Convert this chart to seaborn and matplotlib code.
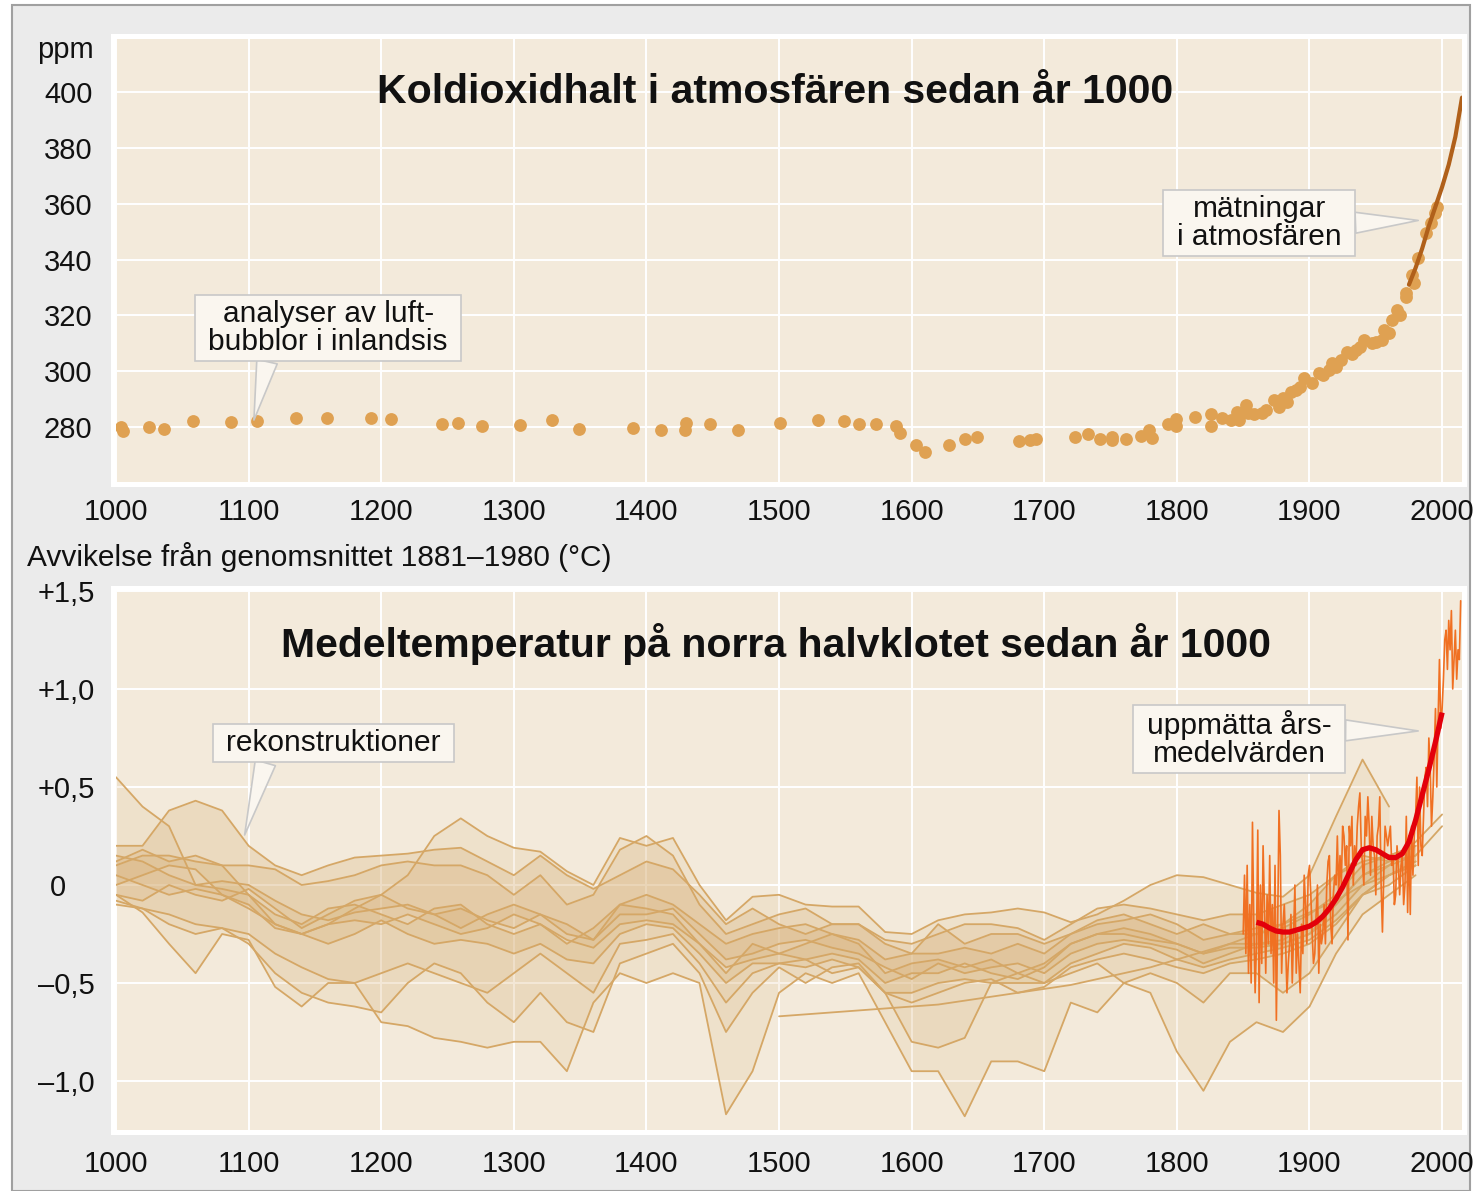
import numpy as np
import pandas as pd
import matplotlib
matplotlib.use('Agg')
import matplotlib.pyplot as plt
from matplotlib.patches import Rectangle
import seaborn as sns

# ---------------- CO2 (ppm) ----------------
co2_year = [1004, 1005, 1025, 1036, 1058, 1087, 1106, 1136, 1159, 1192,
            1207, 1246, 1258, 1276, 1305, 1329, 1349, 1390, 1411, 1429,
            1430, 1448, 1469, 1501, 1529, 1549, 1560, 1573, 1588, 1591,
            1603, 1610, 1628, 1640, 1649, 1681, 1689, 1694, 1723, 1733,
            1742, 1751, 1751, 1762, 1773, 1779, 1781, 1793, 1799, 1799,
            1814, 1826, 1826, 1834, 1841, 1845, 1847, 1852, 1854, 1858,
            1864, 1867, 1873, 1877, 1880, 1883, 1886, 1890, 1893, 1896,
            1902, 1907, 1910, 1915, 1917, 1920, 1924, 1928, 1932, 1935,
            1938, 1941, 1947, 1950, 1955, 1956, 1960, 1962, 1966, 1968,
            1973, 1973, 1977, 1979, 1982, 1988, 1992, 1995, 1996]
co2_ppm = [280.0, 278.6, 280.0, 279.3, 282.2, 281.8, 282.2, 283.2, 283.2, 283.2,
           282.9, 281.1, 281.4, 280.4, 280.7, 282.5, 279.3, 279.6, 278.9, 278.9,
           281.4, 281.1, 278.9, 281.4, 282.5, 282.2, 281.1, 281.1, 280.4, 277.9,
           273.6, 271.0, 273.6, 275.7, 276.4, 275.0, 275.3, 275.7, 276.4, 277.5,
           275.7, 276.4, 275.3, 275.7, 276.8, 278.9, 276.0, 281.1, 282.9, 280.4,
           283.6, 284.7, 280.4, 283.2, 282.5, 285.4, 282.5, 287.9, 285.0, 284.5,
           285.0, 286.1, 289.7, 287.2, 290.5, 289.0, 292.6, 293.3, 294.5, 297.6,
           295.8, 299.3, 298.5, 300.4, 302.9, 301.5, 304.0, 306.9, 306.0, 307.6,
           308.5, 311.2, 310.1, 310.5, 311.2, 314.7, 313.5, 318.3, 321.9, 320.0,
           326.6, 328.0, 334.5, 331.6, 340.5, 349.5, 353.1, 356.7, 358.8]
mlo_year = [1975, 1980, 1985, 1990, 1995, 2000, 2005, 2010, 2015]
mlo_ppm = [331, 337, 344, 352, 359, 366, 374, 384, 398]

# ---------------- temperatur (avvikelse, grader C) ----------------
rec_year = list(range(1000, 2001, 20))
nan = np.nan
rec_a = [0.55, 0.40, 0.30, 0.00, -0.02, -0.05, -0.20, -0.25, -0.20, -0.12,
         -0.05, 0.05, 0.25, 0.34, 0.25, 0.19, 0.17, 0.07, 0.00, 0.24,
         0.20, 0.24, 0.00, -0.18, -0.06, -0.05, -0.10, -0.11, -0.11, -0.24,
         -0.25, -0.18, -0.15, -0.14, -0.12, -0.14, -0.19, -0.15, -0.08, 0.00,
         0.05, 0.04, 0.00, -0.04, -0.06, 0.05, 0.35, 0.64, 0.40, nan, nan]
rec_b = [0.20, 0.20, 0.38, 0.43, 0.38, 0.20, 0.10, 0.05, 0.10, 0.14,
         0.15, 0.16, 0.18, 0.19, 0.12, 0.05, 0.15, 0.05, -0.02, 0.05,
         0.12, 0.08, -0.05, -0.20, -0.12, -0.20, -0.25, -0.20, -0.20, -0.30,
         -0.35, -0.20, -0.30, -0.25, -0.25, -0.30, -0.25, -0.18, -0.15, -0.20,
         -0.25, -0.20, -0.25, -0.22, -0.20, -0.10, 0.05, 0.15, 0.12, 0.20, nan]
rec_c = [-0.05, -0.14, -0.30, -0.45, -0.25, -0.28, -0.52, -0.62, -0.50, -0.50,
         -0.70, -0.72, -0.78, -0.80, -0.83, -0.80, -0.80, -0.95, -0.60, -0.45,
         -0.50, -0.45, -0.50, -1.17, -0.95, -0.55, -0.45, -0.50, -0.45, -0.70,
         -0.95, -0.95, -1.18, -0.90, -0.90, -0.95, -0.60, -0.65, -0.50, -0.55,
         -0.85, -1.05, -0.80, -0.70, -0.75, -0.62, -0.35, -0.15, -0.05, 0.05, nan]
rec_d = [-0.10, -0.12, -0.20, -0.25, -0.22, -0.30, -0.45, -0.55, -0.60, -0.62,
         -0.65, -0.50, -0.40, -0.45, -0.60, -0.70, -0.55, -0.70, -0.75, -0.40,
         -0.35, -0.30, -0.45, -0.75, -0.55, -0.42, -0.50, -0.42, -0.40, -0.55,
         -0.80, -0.83, -0.78, -0.50, -0.45, -0.50, -0.45, -0.40, -0.50, -0.45,
         -0.50, -0.60, -0.45, -0.45, -0.55, -0.45, -0.25, -0.05, 0.00, 0.10, nan]
rec_e = [0.10, 0.15, 0.15, 0.12, 0.10, -0.05, -0.15, -0.20, -0.12, -0.10,
         -0.15, -0.20, -0.12, -0.10, -0.20, -0.25, -0.20, -0.30, -0.22, -0.10,
         -0.12, -0.15, -0.30, -0.45, -0.30, -0.35, -0.30, -0.25, -0.30, -0.45,
         -0.40, -0.38, -0.42, -0.38, -0.45, -0.40, -0.30, -0.25, -0.22, -0.25,
         -0.30, -0.35, -0.30, -0.30, -0.28, -0.20, -0.10, 0.05, 0.10, 0.15, nan]
rec_f = [0.15, 0.12, 0.05, 0.00, 0.02, 0.00, -0.08, -0.15, -0.18, -0.14,
         -0.12, -0.10, -0.15, -0.22, -0.15, -0.10, -0.15, -0.25, -0.28, -0.15,
         -0.15, -0.12, -0.25, -0.38, -0.35, -0.30, -0.28, -0.32, -0.35, -0.42,
         -0.48, -0.40, -0.45, -0.42, -0.40, -0.45, -0.35, -0.30, -0.28, -0.30,
         -0.33, -0.40, -0.35, -0.30, -0.30, -0.25, -0.15, 0.00, 0.05, 0.12, nan]
rec_g = [0.05, 0.00, -0.05, -0.02, -0.05, -0.12, -0.20, -0.25, -0.20, -0.18,
         -0.20, -0.15, -0.20, -0.25, -0.22, -0.15, -0.20, -0.28, -0.32, -0.20,
         -0.18, -0.20, -0.30, -0.42, -0.38, -0.35, -0.38, -0.35, -0.38, -0.50,
         -0.45, -0.45, -0.40, -0.45, -0.48, -0.42, -0.30, -0.25, -0.25, -0.28,
         -0.30, -0.35, -0.32, -0.32, -0.30, -0.25, -0.10, 0.05, 0.12, 0.15, 0.30]
rec_h = [-0.05, -0.08, 0.00, -0.05, -0.08, -0.02, -0.12, -0.22, -0.15, -0.08,
         -0.05, -0.12, -0.15, -0.12, -0.18, -0.22, -0.15, -0.20, -0.28, -0.10,
         -0.05, -0.10, -0.20, -0.30, -0.25, -0.22, -0.20, -0.25, -0.28, -0.38,
         -0.35, -0.35, -0.32, -0.35, -0.30, -0.35, -0.25, -0.20, -0.18, -0.15,
         -0.20, -0.28, -0.25, -0.25, -0.22, -0.15, -0.05, 0.10, 0.15, 0.20, nan]
rec_i = [0.00, 0.05, 0.10, 0.08, -0.05, -0.10, -0.22, -0.25, -0.30, -0.25,
         -0.18, -0.25, -0.30, -0.28, -0.30, -0.35, -0.30, -0.38, -0.40, -0.25,
         -0.20, -0.22, -0.35, -0.50, -0.40, -0.40, -0.42, -0.38, -0.42, -0.55,
         -0.55, -0.50, -0.48, -0.50, -0.50, -0.50, -0.40, -0.35, -0.30, -0.32,
         -0.38, -0.42, -0.38, -0.35, -0.32, -0.28, -0.18, -0.05, 0.05, 0.10, nan]
rec_j = [0.12, 0.18, 0.12, 0.15, 0.10, 0.10, 0.08, 0.00, 0.02, 0.05,
         0.10, 0.12, 0.10, 0.10, 0.05, -0.05, 0.05, -0.10, -0.05, 0.18,
         0.25, 0.15, -0.10, -0.25, -0.20, -0.15, -0.12, -0.20, -0.20, -0.28,
         -0.30, -0.25, -0.20, -0.20, -0.22, -0.28, -0.20, -0.12, -0.10, -0.12,
         -0.15, -0.18, -0.15, -0.15, -0.10, -0.05, 0.05, 0.12, 0.15, 0.20, nan]
rec_k = [-0.08, -0.12, -0.15, -0.20, -0.22, -0.25, -0.35, -0.42, -0.48, -0.50,
         -0.45, -0.40, -0.45, -0.50, -0.55, -0.45, -0.35, -0.45, -0.55, -0.30,
         -0.28, -0.25, -0.40, -0.60, -0.45, -0.40, -0.38, -0.45, -0.42, -0.55,
         -0.60, -0.55, -0.50, -0.48, -0.55, -0.52, -0.42, -0.38, -0.35, -0.38,
         -0.42, -0.45, -0.40, -0.38, -0.35, -0.30, -0.20, -0.05, 0.05, 0.12, nan]
bore_year = list(range(1500, 2001, 20))
bore_t = [-0.67, -0.66, -0.65, -0.64, -0.63, -0.62, -0.61, -0.59, -0.57, -0.55,
          -0.53, -0.51, -0.48, -0.45, -0.42, -0.38, -0.34, -0.30, -0.25, -0.20,
          -0.14, -0.08, 0.00, 0.10, 0.22, 0.36]

obs_year = list(range(1850, 2015))
obs_t = [-0.25, 0.05, -0.35, 0.10, -0.45, -0.10, -0.50, 0.32, -0.20, -0.55,
         -0.30, 0.28, -0.60, 0.00, -0.40, 0.20, -0.10, -0.45, -0.05, -0.30,
         0.15, -0.35, -0.10, -0.50, 0.10, -0.69, -0.20, 0.38, 0.15, -0.45,
         -0.20, -0.10, -0.30, -0.55, -0.40, -0.30, -0.15, -0.50, -0.25, 0.00,
         -0.45, -0.25, -0.40, -0.55, -0.20, -0.35, 0.05, -0.10, -0.30, 0.05,
         0.10, -0.05, -0.25, -0.40, -0.35, -0.15, 0.00, -0.45, -0.20, -0.30,
         -0.25, -0.10, -0.30, 0.00, 0.12, 0.15, -0.20, -0.30, -0.05, 0.05,
         0.00, 0.25, -0.05, 0.15, 0.00, 0.30, 0.25, 0.10, 0.20, -0.28,
         0.30, 0.20, 0.35, 0.00, 0.20, 0.10, 0.30, 0.40, 0.47, 0.20,
         0.10, 0.00, 0.35, 0.25, 0.45, 0.30, 0.05, 0.35, 0.20, 0.15,
         -0.05, 0.25, 0.30, 0.45, 0.00, -0.24, 0.05, 0.30, 0.25, 0.20,
         0.25, 0.30, 0.10, 0.15, -0.10, -0.05, 0.20, 0.10, -0.05, 0.10,
         0.15, -0.10, 0.00, 0.35, -0.14, 0.25, -0.15, 0.30, 0.05, 0.25,
         0.35, 0.55, 0.10, 0.50, 0.20, 0.15, 0.35, 0.55, 0.60, 0.40,
         0.75, 0.60, 0.30, 0.45, 0.65, 0.90, 0.50, 0.85, 1.15, 0.80,
         0.90, 1.05, 1.25, 1.30, 1.10, 1.35, 1.20, 1.40, 1.00, 1.15,
         1.30, 1.05, 1.20, 1.15, 1.45]
smooth_year = list(range(1860, 2001, 5))
smooth_t = [-0.19, -0.20, -0.22, -0.235, -0.24, -0.24, -0.23, -0.22, -0.21, -0.19,
            -0.16, -0.12, -0.07, -0.01, 0.06, 0.13, 0.18, 0.19, 0.18, 0.16,
            0.14, 0.14, 0.16, 0.22, 0.33, 0.46, 0.59, 0.73, 0.88]

temp_ticks = [-1.0, -0.5, 0.0, 0.5, 1.0, 1.5]
temp_labels = ['\u20131,0', '\u20130,5', '0  ', '+0,5', '+1,0', '+1,5']

BEIGE = '#f3eadb'
TAN = '#d5a766'
FILLC = '#d9b37b'
W, H = 1481, 1191


def style_axes(ax):
    ax.set_facecolor(BEIGE)
    for s in ax.spines.values():
        s.set_visible(False)
    ax.grid(True, color='white', linewidth=1.4)
    ax.set_axisbelow(True)
    ax.set_xlim(1000, 2015)
    ax.set_xticks(range(1000, 2001, 100))
    ax.tick_params(length=0, labelsize=21, colors='#111111')
    ax.set_xlabel('')
    ax.set_ylabel('')


def white_frame(fig, x0, y0, x1, y1):
    # white border around each panel (pixel coords, y from top)
    fig.add_artist(Rectangle((x0 / W, 1 - y1 / H), (x1 - x0) / W, (y1 - y0) / H,
                             transform=fig.transFigure, fc='white', ec='none', zorder=-1))


def callout(ax, text, xy, xytext, relpos):
    ax.annotate(text, xy=xy, xytext=xytext, ha='center', va='center',
                fontsize=21.5, linespacing=1.0, color='#111111',
                bbox=dict(boxstyle='square,pad=0.45', mutation_aspect=0.38,
                          fc='#faf6ef', ec='#c8c8c8', lw=1.2),
                arrowprops=dict(arrowstyle='wedge,tail_width=0.7,shrink_factor=0.5',
                                fc='#faf6ef', ec='#c8c8c8', lw=1.2,
                                relpos=relpos, shrinkA=0, shrinkB=0),
                zorder=10)


def plot_co2(ax):
    style_axes(ax)
    sns.scatterplot(x=co2_year, y=co2_ppm, s=85, color='#dfa152', linewidth=0, ax=ax, zorder=3)
    sns.lineplot(x=mlo_year, y=mlo_ppm, color='#b0601a', linewidth=3.0, ax=ax, zorder=4)
    ax.set_ylim(260.3, 419)
    ax.set_yticks(range(280, 401, 20))
    ax.tick_params(axis='y', pad=17)
    ax.tick_params(axis='x', pad=11.5)
    ax.text(0.49, 0.88, 'Koldioxidhalt i atmosfären sedan år 1000', transform=ax.transAxes,
            ha='center', va='center', fontsize=29.5, fontweight='bold', color='#111111')
    callout(ax, 'analyser av luft-\nbubblor i inlandsis', (1104, 282.5), (1160, 315.5), (0.25, 0.0))
    callout(ax, 'mätningar\ni atmosfären', (1982, 354), (1862, 353), (1.0, 0.5))


def plot_temp(ax):
    style_axes(ax)
    yrs = np.array(rec_year)
    pairs = [(rec_a, rec_c, 0.16), (rec_b, rec_d, 0.16), (rec_e, rec_i, 0.24),
             (rec_j, rec_g, 0.22), (rec_f, rec_h, 0.22), (rec_b, rec_k, 0.14)]
    for up, lo, a in pairs:
        ax.fill_between(yrs, up, lo, color=FILLC, alpha=a, linewidth=0, zorder=2)
    for series in [rec_a, rec_b, rec_c, rec_d, rec_e, rec_f, rec_g, rec_h, rec_i, rec_j, rec_k]:
        sns.lineplot(x=rec_year, y=series, color=TAN, linewidth=1.3, ax=ax, zorder=3,
                     solid_joinstyle='round')
    sns.lineplot(x=bore_year, y=bore_t, color=TAN, linewidth=1.3, ax=ax, zorder=3)
    sns.lineplot(x=obs_year, y=obs_t, color='#f07022', linewidth=1.2, ax=ax, zorder=4)
    sns.lineplot(x=smooth_year, y=smooth_t, color='#e3000b', linewidth=3.8, ax=ax, zorder=5,
                 solid_capstyle='butt')
    ax.set_ylim(-1.25, 1.5)
    ax.set_yticks(temp_ticks)
    ax.set_yticklabels(temp_labels)
    for lab in ax.get_yticklabels():
        lab.set_horizontalalignment('center')
    ax.tick_params(axis='y', pad=36)
    ax.tick_params(axis='x', pad=14.5)
    ax.text(0.49, 0.902, 'Medeltemperatur på norra halvklotet sedan år 1000', transform=ax.transAxes,
            ha='center', va='center', fontsize=29.5, fontweight='bold', color='#111111')
    callout(ax, 'rekonstruktioner', (1097, 0.255), (1164, 0.724), (0.19, 0.0))
    callout(ax, 'uppmätta års-\nmedelvärden', (1982, 0.786), (1847, 0.745), (1.0, 0.65))


def main():
    sns.set_style('white')
    plt.rcParams['font.family'] = ['Liberation Sans', 'DejaVu Sans']
    fig = plt.figure(figsize=(W / 100, H / 100), dpi=100, facecolor='white')
    fig.add_artist(Rectangle((12 / W, 0), (1470 - 12) / W, 1 - 5 / H, transform=fig.transFigure,
                             fc='#ebebeb', ec='#a0a0a0', lw=1.5, zorder=-2))
    white_frame(fig, 111, 34, 1467, 487)
    white_frame(fig, 111, 586, 1467, 1135)

    ax1 = fig.add_axes([116 / W, 1 - 482 / H, (1462 - 116) / W, (482 - 39) / H])
    ax2 = fig.add_axes([116 / W, 1 - 1130 / H, (1462 - 116) / W, (1130 - 591) / H])
    plot_co2(ax1)
    plot_temp(ax2)

    fig.text(65 / W, 1 - 50 / H, 'ppm', ha='center', va='center', fontsize=21, color='#111111')
    fig.text(27 / W, 1 - 557 / H, 'Avvikelse från genomsnittet 1881\u20131980 (°C)',
             ha='left', va='center', fontsize=21.5, color='#111111')

    fig.savefig('out.png', dpi=100, facecolor=fig.get_facecolor())
    plt.close(fig)


if __name__ == '__main__':
    main()
